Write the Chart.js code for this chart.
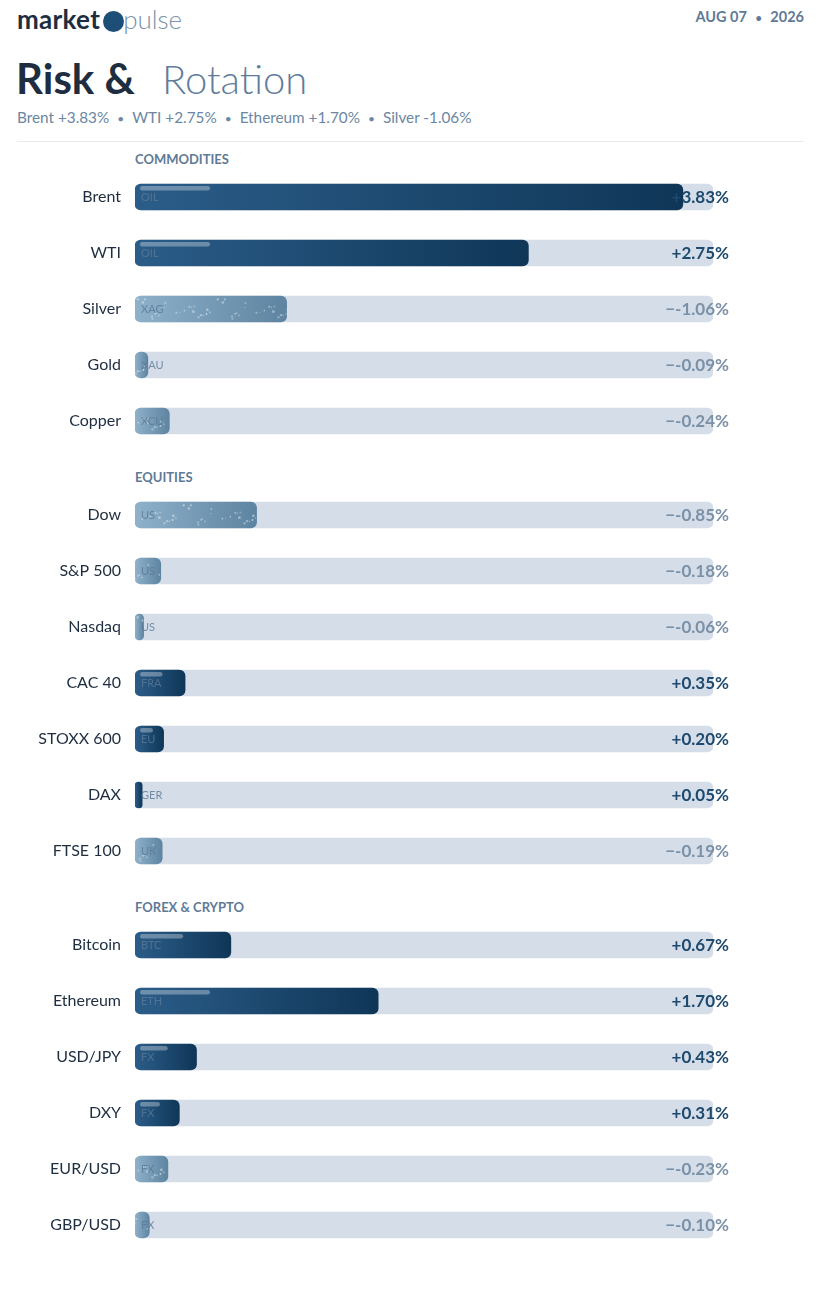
<!DOCTYPE html>
<html><head><meta charset="utf-8">
<script src="https://cdn.jsdelivr.net/npm/chart.js@4.4.1/dist/chart.umd.min.js"></script>
<style>
html,body{margin:0;padding:0;background:#fff}
body{width:820px;height:1298px;position:relative;overflow:hidden;font-family:Lato,"Noto Sans",sans-serif}
.abs{position:absolute;white-space:nowrap}
#brand{left:17px;top:3px;font-size:26px;line-height:32px;color:#1e2d40}
#brand b{font-weight:700;letter-spacing:0.3px}
#brand .dot{display:inline-block;width:21px;height:21px;border-radius:50%;background:#1d4e78;vertical-align:-3px;margin:0 -1px 0 3px}
#brand .pulse{font-weight:300;color:#7a93ab}
#date{right:16px;top:7px;font-size:14.5px;line-height:20px;color:#5f7a96;font-weight:700}
#title{left:16px;top:52px;font-size:42px;line-height:52px;color:#1e2d40}
#title b{font-weight:700}
#title .rot{font-weight:300;color:#5f7d9a;margin-left:27px;font-size:40px}
#sub{left:17px;top:107px;font-size:15.3px;line-height:20px;color:#6b87a2}
#sub .sep{margin:0 8px;font-size:12px}
#rule{left:17px;top:141px;width:787px;height:1px;background:#e6ebf0}
.sec{left:135px;font-size:13px;line-height:16px;font-weight:700;color:#5f7a96}
.cw{position:absolute;left:0;width:820px}
</style></head><body>
<div id="brand" class="abs"><b>market</b><span class="dot"></span><span class="pulse">pulse</span></div>
<div id="date" class="abs">AUG 07 <span style="margin:0 5px;font-size:11px">•</span> 2026</div>
<div id="title" class="abs"><b>Risk &amp;</b><span class="rot">Rotation</span></div>
<div id="sub" class="abs"></div>
<div id="rule" class="abs"></div>
<div id="sec0" class="abs sec" style="top:151px"></div>
<div id="sec1" class="abs sec" style="top:469px"></div>
<div id="sec2" class="abs sec" style="top:899px"></div>
<div class="cw" style="top:169px;height:280px"><canvas id="c0"></canvas></div>
<div class="cw" style="top:487px;height:392px"><canvas id="c1"></canvas></div>
<div class="cw" style="top:917px;height:336px"><canvas id="c2"></canvas></div>
<script>
// ---- data ----
const sectionTitles = ['COMMODITIES', 'EQUITIES', 'FOREX & CRYPTO'];
const commodityLabels = ['Brent', 'WTI', 'Silver', 'Gold', 'Copper'];
const commodityValues = [3.83, 2.75, -1.06, -0.09, -0.24];
const commodityCodes = ['OIL', 'OIL', 'XAG', 'XAU', 'XCU'];
const equityLabels = ['Dow', 'S&P 500', 'Nasdaq', 'CAC 40', 'STOXX 600', 'DAX', 'FTSE 100'];
const equityValues = [-0.85, -0.18, -0.06, 0.35, 0.20, 0.05, -0.19];
const equityCodes = ['US', 'US', 'US', 'FRA', 'EU', 'GER', 'UK'];
const fxLabels = ['Bitcoin', 'Ethereum', 'USD/JPY', 'DXY', 'EUR/USD', 'GBP/USD'];
const fxValues = [0.67, 1.70, 0.43, 0.31, -0.23, -0.10];
const fxCodes = ['BTC', 'ETH', 'FX', 'FX', 'FX', 'FX'];
const subtitleItems = [['Brent', '+3.83%'], ['WTI', '+2.75%'], ['Ethereum', '+1.70%'], ['Silver', '-1.06%']];

sectionTitles.forEach((t, i) => document.getElementById('sec' + i).textContent = t);
document.getElementById('sub').innerHTML = subtitleItems.map(s => s[0] + ' ' + s[1]).join('<span class="sep">•</span>');

const allVals = commodityValues.concat(equityValues, fxValues);
const scaleMax = Math.max(...allVals.map(Math.abs)) * 1.055;

Chart.defaults.font.family = 'Lato, "Noto Sans", sans-serif';

// speckle pattern (decorative texture)
function makeSpeckle() {
  const c = document.createElement('canvas');
  c.width = 80; c.height = 26;
  const g = c.getContext('2d');
  let s = 12345;
  const rnd = () => { s = (s * 1103515245 + 12345) % 2147483648; return s / 2147483648; };
  for (let k = 0; k < 24; k++) {
    g.fillStyle = 'rgba(255,255,255,' + (0.2 + rnd() * 0.3).toFixed(2) + ')';
    g.beginPath();
    g.arc(rnd() * 80, 3 + rnd() * 20, 0.7 + rnd() * 0.7, 0, Math.PI * 2);
    g.fill();
  }
  return c;
}
const speckleCanvas = makeSpeckle();

function rr(ctx, x, y, w, h, r) {
  r = Math.min(r, w / 2, h / 2);
  ctx.beginPath();
  ctx.moveTo(x + r, y);
  ctx.arcTo(x + w, y, x + w, y + h, r);
  ctx.arcTo(x + w, y + h, x, y + h, r);
  ctx.arcTo(x, y + h, x, y, r);
  ctx.arcTo(x, y, x + w, y, r);
  ctx.closePath();
}

const fmt = v => (v >= 0 ? '+' + v.toFixed(2) : '\u2212' + v.toFixed(2)) + '%';

const decor = {
  id: 'decor',
  afterDatasetsDraw(chart) {
    const ctx = chart.ctx;
    const ds = chart.data.datasets[0];
    const meta = chart.getDatasetMeta(0);
    const area = chart.chartArea;
    meta.data.forEach((bar, i) => {
      const p = bar.getProps(['x', 'y', 'base', 'height'], true);
      const left = Math.min(p.x, p.base), w = Math.abs(p.x - p.base);
      const top = p.y - p.height / 2, h = p.height;
      const v = ds.signed[i];
      ctx.save();
      if (v < 0 && w > 0) {
        rr(ctx, left, top, w, h, 6);
        ctx.clip();
        ctx.fillStyle = ctx.createPattern(speckleCanvas, 'repeat');
        ctx.translate(left + i * 17, top);
        ctx.fillRect(-i * 17, 0, w, h);
      } else if (v >= 0) {
        const sw = Math.min(70, w * 0.45);
        if (sw > 4) {
          rr(ctx, left + 5, top + 2, sw, 4.5, 2.25);
          ctx.fillStyle = 'rgba(255,255,255,0.32)';
          ctx.fill();
        }
      }
      ctx.restore();
      // code label
      ctx.save();
      ctx.font = '11px Lato, "Noto Sans", sans-serif';
      ctx.fillStyle = 'rgba(90,120,150,0.8)';
      ctx.textAlign = 'left';
      ctx.textBaseline = 'middle';
      ctx.fillText(ds.codes[i], left + 6, p.y);
      // value label
      ctx.font = 'bold 17px Lato, "Noto Sans", sans-serif';
      ctx.fillStyle = v >= 0 ? '#1d4a6e' : '#7b91a8';
      ctx.textAlign = 'right';
      ctx.fillText(fmt(v), area.right + 16, p.y + 1);
      ctx.restore();
    });
  }
};

function barFill(context) {
  const chart = context.chart;
  const ds = chart.data.datasets[0];
  const v = ds.signed[context.dataIndex];
  const xs = chart.scales.x;
  if (!xs || !chart.chartArea) return v >= 0 ? '#1d4a72' : '#7a9cb8';
  const x0 = xs.getPixelForValue(0), x1 = Math.max(xs.getPixelForValue(Math.abs(v)), x0 + 1);
  const g = chart.ctx.createLinearGradient(x0, 0, x1, 0);
  if (v >= 0) { g.addColorStop(0, '#2b5d89'); g.addColorStop(1, '#0f3657'); }
  else { g.addColorStop(0, '#8fb1ca'); g.addColorStop(1, '#5d84a1'); }
  return g;
}

function makeChart(id, labels, values, codes) {
  new Chart(document.getElementById(id), {
    type: 'bar',
    data: {
      labels: labels,
      datasets: [
        {
          data: values.map(Math.abs), signed: values, codes: codes,
          backgroundColor: barFill, borderRadius: 6, borderSkipped: false,
          barThickness: 26, grouped: false
        },
        {
          data: values.map(() => scaleMax),
          backgroundColor: '#d5dde8', borderRadius: 6, borderSkipped: false,
          barThickness: 26, grouped: false
        }
      ]
    },
    options: {
      indexAxis: 'y',
      responsive: true, maintainAspectRatio: false, animation: false,
      layout: { padding: { left: 0, right: 107, top: 0, bottom: 0 } },
      plugins: { legend: { display: false }, tooltip: { enabled: false } },
      scales: {
        x: { display: false, min: 0, max: scaleMax },
        y: {
          grid: { display: false, drawTicks: false }, border: { display: false },
          ticks: { color: '#1e2d40', font: { size: 16 }, padding: 14 },
          afterFit: s => { s.width = 135; s.paddingTop = 0; s.paddingBottom = 0; }
        }
      }
    },
    plugins: [decor]
  });
}

makeChart('c0', commodityLabels, commodityValues, commodityCodes);
makeChart('c1', equityLabels, equityValues, equityCodes);
makeChart('c2', fxLabels, fxValues, fxCodes);
</script>
</body></html>
